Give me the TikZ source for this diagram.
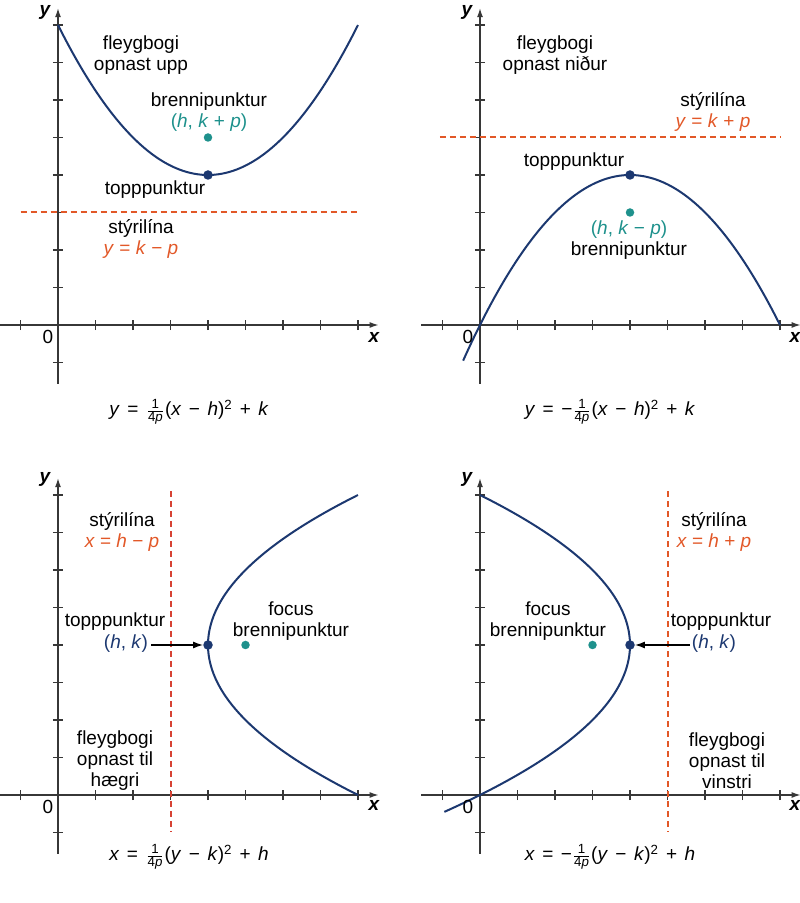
\documentclass[tikz,border=0pt]{standalone}
\usepackage{amsmath}
\usepackage{fontspec}
\setmainfont{Liberation Sans}
\usetikzlibrary{arrows.meta}
\definecolor{curvec}{RGB}{28,56,112}
\definecolor{focc}{RGB}{30,145,140}
\definecolor{dirc}{RGB}{226,88,40}
\definecolor{dirr}{RGB}{214,66,52}
\definecolor{axc}{RGB}{55,55,55}
\newcommand{\eqfr}{\hspace{1pt}$\frac{\text{1}}{\text{4\textit{p}}}$\hspace{1pt}}
\newcommand{\eqs}{\hspace{7.5pt}}
\tikzset{
  axisline/.style={draw=axc, line width=1.3pt, -{Latex[length=9pt,width=6pt]}},
  tickline/.style={draw=axc, line width=1.2pt},
  curveline/.style={draw=curvec, line width=2pt},
  dirline/.style={draw=dirc, line width=2pt, dash pattern=on 6pt off 4pt},
  lbl/.style={font=\fontsize{19}{21}\selectfont, align=center, inner sep=0pt, text=black},
  axlbl/.style={font=\fontsize{19}{21}\selectfont\bfseries\itshape, inner sep=0pt},
  zerolbl/.style={font=\fontsize{19}{21}\selectfont, inner sep=0pt},
  vdot/.style={circle, fill=curvec, minimum size=9.5pt, inner sep=0pt},
  fdot/.style={circle, fill=focc, minimum size=8.5pt, inner sep=0pt},
  ptr/.style={draw=black, line width=1.3pt, -{Latex[length=10pt,width=7pt]}},
}
\begin{document}
\begin{tikzpicture}[x=1pt,y=1pt]
\useasboundingbox (0,0) rectangle (800,903);
% common axes
\foreach \ox/\oy in {58/578, 480/578, 58/108, 480/108}{
  \begin{scope}[shift={(\ox pt,\oy pt)}, x=37.5pt, y=37.5pt]
    \draw[axisline] (-1.57,0) -- (8.55,0);
    \draw[axisline] (0,-1.57) -- (0,8.45);
    \foreach \i in {-1,1,2,3,4,5,6,7,8}{
      \draw[tickline] (\i,-0.14) -- (\i,0.14);
      \draw[tickline] (-0.14,\i) -- (0.14,\i);
    }
  \end{scope}
}
% ---------- top left ----------
\begin{scope}[shift={(58pt,578pt)}, x=37.5pt, y=37.5pt]
  \draw[dirline] (-1,3) -- (8,3);
  \draw[curveline] plot[domain=0:8, samples=80, smooth] (\x, {(\x-4)^2/4+4});
  \node[vdot] (v1) at (4,4) {};
  \node[fdot] (f1) at (4,5) {};
\end{scope}
\node[lbl] (o1) at (141,847.5) {fleygbogi\\opnast upp};
\node[lbl] (b1) at (209,790.5) {brennipunktur\\\textcolor{focc}{(\textit{h}, \textit{k} + \textit{p})}};
\node[lbl] (t1) at (155,713) {topppunktur};
\node[lbl] (d1) at (141,664) {stýrilína\\\textcolor{dirc}{\textit{y} = \textit{k} − \textit{p}}};
\node[lbl] (e1) at (189,491) {\textit{y}\eqs=\eqs\eqfr(\textit{x}\eqs−\eqs\textit{h})\textsuperscript{2}\eqs+\eqs\textit{k}};
\node[axlbl] (y1) at (45,891) {y};
\node[axlbl] (x1) at (374,566) {x};
\node[zerolbl] (z1) at (48,566) {0};
% ---------- top right ----------
\begin{scope}[shift={(480pt,578pt)}, x=37.5pt, y=37.5pt]
  \draw[dirline] (-1.07,5) -- (8,5);
  \draw[curveline] plot[domain=-0.45:8, samples=80, smooth] (\x, {-(\x-4)^2/4+4});
  \node[vdot] (v2) at (4,4) {};
  \node[fdot] (f2) at (4,3) {};
\end{scope}
\node[lbl] (o2) at (555,848) {fleygbogi\\opnast niður};
\node[lbl] (d2) at (713,791) {stýrilína\\\textcolor{dirc}{\textit{y} = \textit{k} + \textit{p}}};
\node[lbl] (t2) at (574,741) {topppunktur};
\node[lbl] (b2) at (629,662.5) {\textcolor{focc}{(\textit{h}, \textit{k} − \textit{p})}\\brennipunktur};
\node[lbl] (e2) at (610,491) {\textit{y}\eqs=\eqs−\eqfr(\textit{x}\eqs−\eqs\textit{h})\textsuperscript{2}\eqs+\eqs\textit{k}};
\node[axlbl] (y2) at (467,891) {y};
\node[axlbl] (x2) at (795,566) {x};
\node[zerolbl] (z2) at (468,566) {0};
% ---------- bottom left ----------
\begin{scope}[shift={(58pt,108pt)}, x=37.5pt, y=37.5pt]
  \draw[dirline, draw=dirr] (3,8.1) -- (3,-1);
  \draw[curveline] plot[domain=0:8, samples=80, smooth] ({(\x-4)^2/4+4}, \x);
  \node[vdot] (v3) at (4,4) {};
  \node[fdot] (f3) at (5,4) {};
\end{scope}
\node[lbl] (d3) at (122,371) {stýrilína\\\textcolor{dirc}{\textit{x} = \textit{h} − \textit{p}}};
\node[lbl] (t3) at (115,281) {topppunktur};
\node[lbl, text=curvec, inner xsep=3pt] (hk3) at (126,259) {(\textit{h}, \textit{k})};
\node[lbl] (b3) at (291,282) {focus\\brennipunktur};
\node[lbl] (o3) at (115,142) {fleygbogi\\opnast til\\hægri};
\node[lbl] (e3) at (189,46) {\textit{x}\eqs=\eqs\eqfr(\textit{y}\eqs−\eqs\textit{k})\textsuperscript{2}\eqs+\eqs\textit{h}};
\node[axlbl] (y3) at (45,424) {y};
\node[axlbl] (x3) at (374,98) {x};
\node[zerolbl] (z3) at (48,96) {0};
\draw[ptr] (hk3.east |- v3) -- (v3.west);
% ---------- bottom right ----------
\begin{scope}[shift={(480pt,108pt)}, x=37.5pt, y=37.5pt]
  \draw[dirline] (5,8.1) -- (5,-1);
  \draw[curveline] plot[domain=-0.45:8, samples=80, smooth] ({-(\x-4)^2/4+4}, \x);
  \node[vdot] (v4) at (4,4) {};
  \node[fdot] (f4) at (3,4) {};
\end{scope}
\node[lbl] (d4) at (714,371) {stýrilína\\\textcolor{dirc}{\textit{x} = \textit{h} + \textit{p}}};
\node[lbl] (t4) at (721,281) {topppunktur};
\node[lbl, text=curvec, inner xsep=2pt] (hk4) at (714,259) {(\textit{h}, \textit{k})};
\node[lbl] (b4) at (548,282) {focus\\brennipunktur};
\node[lbl] (o4) at (727,142) {fleygbogi\\opnast til\\vinstri};
\node[lbl] (e4) at (610,46) {\textit{x}\eqs=\eqs−\eqfr(\textit{y}\eqs−\eqs\textit{k})\textsuperscript{2}\eqs+\eqs\textit{h}};
\node[axlbl] (y4) at (467,424) {y};
\node[axlbl] (x4) at (795,98) {x};
\node[zerolbl] (z4) at (468,96) {0};
\draw[ptr] (hk4.west |- v4) -- (v4.east);
\end{tikzpicture}
\end{document}
